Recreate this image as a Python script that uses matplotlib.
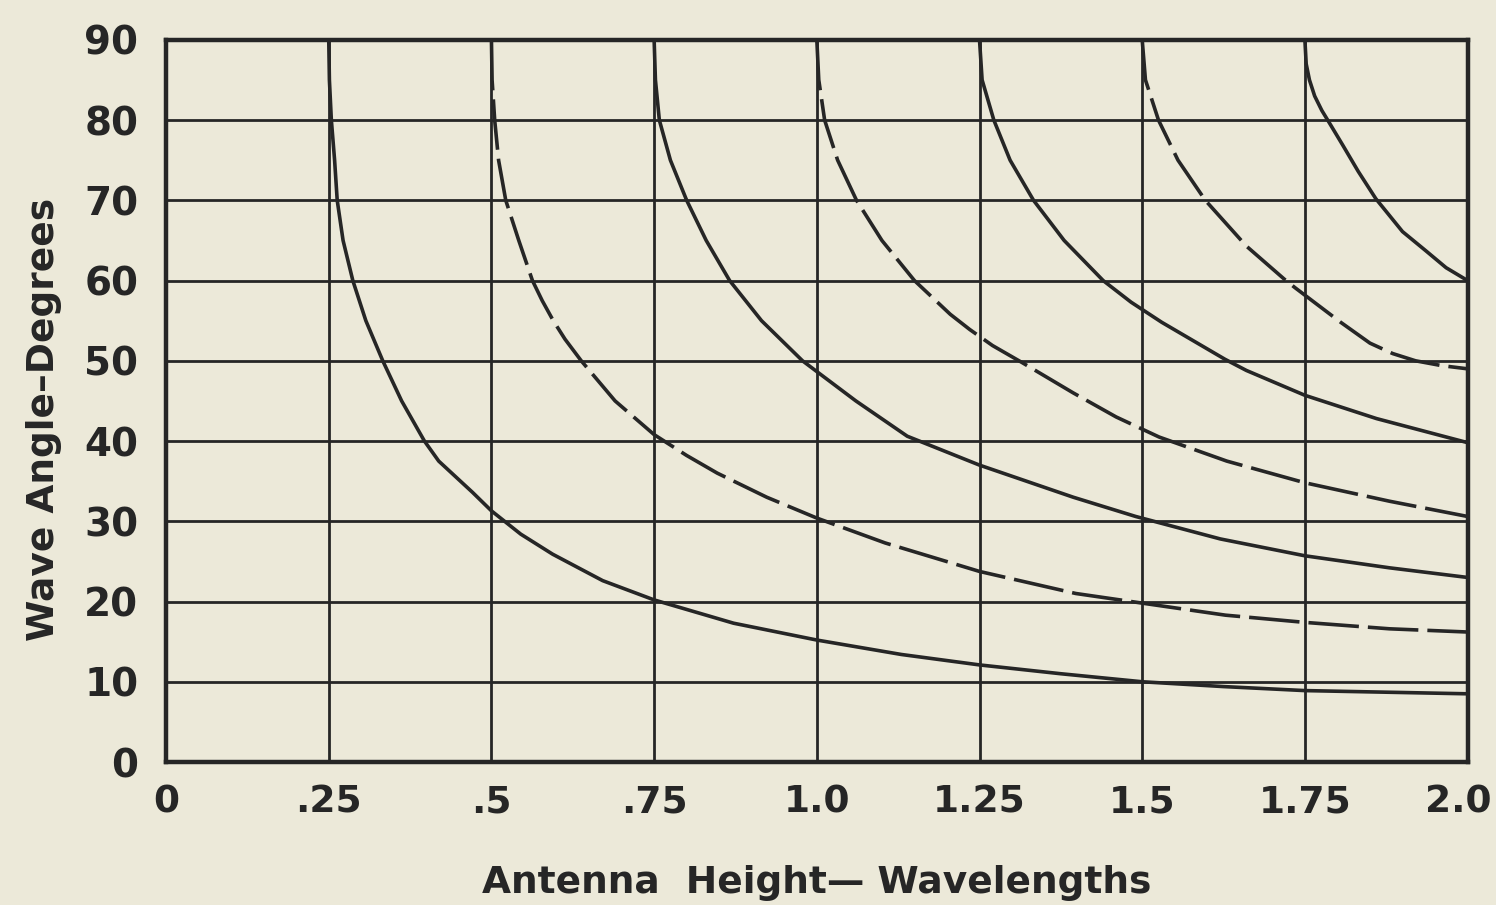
import matplotlib
matplotlib.use("Agg")
import matplotlib.pyplot as plt
from matplotlib.transforms import ScaledTranslation

# wave angle (degrees) vs antenna height (wavelengths)
h1 = [0.25, 0.251, 0.254, 0.259, 0.263, 0.272, 0.287, 0.307, 0.333, 0.362, 0.397, 0.419, 0.471,
      0.5, 0.545, 0.594, 0.671, 0.75, 0.872, 1.0, 1.13, 1.25, 1.375, 1.5, 1.625, 1.75, 2.0]
a1 = [90, 85, 80, 75, 70, 65, 60, 55, 50, 45, 40, 37.5, 33.6,
      31.3, 28.4, 25.9, 22.6, 20.2, 17.3, 15.2, 13.4, 12.1, 11.0, 10.0, 9.4, 8.9, 8.5]

h2 = [0.5, 0.501, 0.505, 0.511, 0.522, 0.542, 0.563, 0.578, 0.595, 0.613, 0.638, 0.69, 0.75,
      0.80, 0.847, 0.923, 1.0, 1.105, 1.25, 1.398, 1.5, 1.628, 1.75, 1.88, 2.0]
a2 = [90, 85, 80, 75, 70, 65, 60, 57.5, 55, 52.7, 50, 45, 40.8,
      38.2, 36.0, 33.0, 30.4, 27.3, 23.75, 21.0, 19.8, 18.3, 17.4, 16.6, 16.2]

h3 = [0.75, 0.752, 0.758, 0.775, 0.80, 0.83, 0.866, 0.915, 0.978, 1.06, 1.139, 1.25, 1.394,
      1.49, 1.62, 1.75, 1.88, 2.0]
a3 = [90, 85, 80, 75, 70, 65, 60, 55, 50, 45, 40.6, 37.0, 33.0,
      30.6, 27.8, 25.7, 24.2, 23.0]

h4 = [1.0, 1.003, 1.012, 1.032, 1.061, 1.10, 1.15, 1.205, 1.235, 1.27, 1.315, 1.394, 1.46,
      1.526, 1.63, 1.75, 1.88, 2.0]
a4 = [90, 85, 80, 75, 70, 65, 60, 55.8, 53.9, 51.9, 49.8, 46.0, 43.0,
      40.5, 37.5, 34.8, 32.5, 30.6]

h5 = [1.25, 1.254, 1.272, 1.297, 1.333, 1.38, 1.44, 1.483, 1.53, 1.627, 1.66, 1.75, 1.86, 2.0]
a5 = [90, 85, 80, 75, 70, 65, 60, 57.3, 54.8, 50.2, 48.8, 45.7, 42.8, 39.8]

h6 = [1.5, 1.505, 1.525, 1.555, 1.597, 1.66, 1.718, 1.735, 1.805, 1.85, 1.885, 1.92, 1.96, 2.0]
a6 = [90, 85, 80, 75, 70, 64.3, 60.2, 59.1, 54.8, 52.2, 50.9, 50.0, 49.4, 49.0]

h7 = [1.75, 1.752, 1.757, 1.765, 1.776, 1.788, 1.808, 1.832, 1.859, 1.90, 1.936, 1.967, 2.0]
a7 = [90, 87, 85, 83, 81.2, 79.6, 76.9, 73.6, 70.2, 66.1, 63.7, 61.6, 60.0]

xticks = [0, 0.25, 0.5, 0.75, 1.0, 1.25, 1.5, 1.75, 2.0]
xlabels = ['0', '.25', '.5', '.75', '1.0', '1.25', '1.5', '1.75', '2.0']
yticks = [0, 10, 20, 30, 40, 50, 60, 70, 80, 90]

paper = '#ECE9D9'
ink = '#262626'

fig = plt.figure(figsize=(14.96, 9.05), dpi=100, facecolor=paper)
ax = fig.add_axes([0.111, 0.158, 0.870, 0.798])
ax.set_facecolor(paper)

solid = dict(color=ink, lw=2.6, solid_capstyle='butt', solid_joinstyle='round')
dashed = dict(color=ink, lw=2.6, linestyle=(0, (14, 2.5)), dash_capstyle='butt')

ax.plot(h1, a1, **solid)
ax.plot(h2, a2, **dashed)
ax.plot(h3, a3, **solid)
ax.plot(h4, a4, **dashed)
ax.plot(h5, a5, **solid)
ax.plot(h6, a6, **dashed)
ax.plot(h7, a7, **solid)

ax.set_xlim(0, 2.0)
ax.set_ylim(0, 90)
ax.set_xticks(xticks)
ax.set_xticklabels(xlabels)
ax.set_yticks(yticks)
ax.grid(True, color=ink, lw=2.0)
ax.set_axisbelow(True)
for s in ax.spines.values():
    s.set_linewidth(3.2)
    s.set_color(ink)

ax.tick_params(length=0, colors=ink)
ax.tick_params(axis='x', labelsize=27, pad=16)
ax.tick_params(axis='y', labelsize=28, pad=20)
for lab in ax.get_xticklabels() + ax.get_yticklabels():
    lab.set_fontweight('bold')
# last x label sits a bit inside the frame edge in the original
last = ax.get_xticklabels()[-1]
last.set_transform(last.get_transform() + ScaledTranslation(-0.09, 0, fig.dpi_scale_trans))

ax.set_xlabel('Antenna  Height\u2014 Wavelengths', fontsize=27, fontweight='bold', color=ink)
ax.set_ylabel('Wave Angle\u2013Degrees', fontsize=27, fontweight='bold', color=ink)
ax.xaxis.set_label_coords(0.5, -0.143)
ax.yaxis.set_label_coords(-0.080, 0.474)

fig.savefig('out.png', dpi=100, facecolor=paper)
